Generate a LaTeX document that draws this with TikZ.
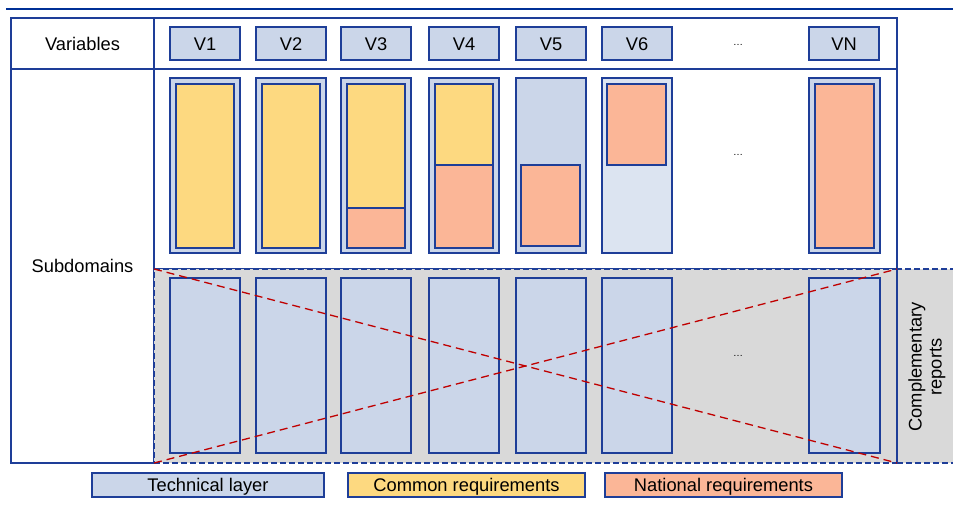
\documentclass[tikz,border=0pt]{standalone}
\usepackage{fontspec}
\setmainfont{Liberation Sans}
\definecolor{bcol}{RGB}{30,62,152}
\definecolor{topc}{RGB}{0,48,150}
\definecolor{techc}{RGB}{203,214,233}
\definecolor{techl}{RGB}{220,228,241}
\definecolor{yelc}{RGB}{253,217,128}
\definecolor{salc}{RGB}{251,182,151}
\definecolor{grayc}{RGB}{217,217,217}
\definecolor{redc}{RGB}{192,0,0}
\begin{document}
\begin{tikzpicture}[x=1pt,y=-1pt,
  every node/.style={font=\fontsize{18.3}{20}\selectfont, inner sep=0pt, outer sep=0pt},
  lbl/.style={text height=13.1pt, text depth=0pt},
  cell/.style={draw=bcol, line width=1.2pt, fill=white, rectangle, anchor=north west, lbl},
  bx/.style={draw=bcol, line width=1.6pt, rectangle, anchor=north west, lbl},
  tech/.style={bx, fill=techc},
  techlt/.style={bx, fill=techl},
  common/.style={bx, fill=yelc},
  natl/.style={bx, fill=salc},
  dots/.style={font=\fontsize{10}{11}\selectfont},
  band/.style={fill=grayc, draw=bcol, line width=1.1pt, dash pattern=on 6pt off 3pt, rectangle, anchor=north west},
  cross/.style={draw=redc, line width=1.3pt, dash pattern=on 8pt off 5pt},
  topline/.style={draw=topc, line width=2pt},
  edge/.style={draw=bcol, line width=1.2pt},
]
\useasboundingbox (0,0) rectangle (953,510);

% top rule
\coordinate (tl) at (6,9);
\coordinate (tr) at (953,9);
\draw[topline] (tl) -- (tr);

% table cells
\node[cell, minimum width=143pt, minimum height=51pt] (varcell) at (11,18) {Variables};
\node[cell, minimum width=143pt, minimum height=394pt] (subcell) at (11,69) {Subdomains};
\node[cell, minimum width=743pt, minimum height=51pt] (hdr) at (154,18) {};
\node[cell, minimum width=743pt, minimum height=200pt] (upper) at (154,69) {};
\node[band, minimum width=743pt, minimum height=194pt] (lower) at (154,269) {};
\node[band, minimum width=72pt, minimum height=194pt] (comp) at (897,269) {};
\node[rotate=90, align=center] (comptxt) at (927,367) {Complementary\\reports};
\draw[edge] (hdr.north east) -- (lower.south east);

% header boxes
\node[tech, minimum width=70pt, minimum height=33pt] (h1) at (170,27) {V1};
\node[tech, minimum width=70pt, minimum height=33pt] (h2) at (256,27) {V2};
\node[tech, minimum width=70pt, minimum height=33pt] (h3) at (341,27) {V3};
\node[tech, minimum width=70pt, minimum height=33pt] (h4) at (429,27) {V4};
\node[tech, minimum width=70pt, minimum height=33pt] (h5) at (516,27) {V5};
\node[tech, minimum width=70pt, minimum height=33pt] (h6) at (602,27) {V6};
\node[tech, minimum width=70pt, minimum height=33pt] (h7) at (809,27) {VN};
\node[dots] (dh) at (738,45) {…};

% upper columns
\node[tech, minimum width=70pt, minimum height=175pt] (u1) at (170,78) {};
\node[common, minimum width=58pt, minimum height=164pt] (c1) at (176,84) {};
\node[tech, minimum width=70pt, minimum height=175pt] (u2) at (256,78) {};
\node[common, minimum width=58pt, minimum height=164pt] (c2) at (262,84) {};
\node[tech, minimum width=70pt, minimum height=175pt] (u3) at (341,78) {};
\node[common, minimum width=58pt, minimum height=124pt] (c3) at (347,84) {};
\node[natl, minimum width=58pt, minimum height=40pt] (n3) at (347,208) {};
\node[tech, minimum width=70pt, minimum height=175pt] (u4) at (429,78) {};
\node[common, minimum width=58pt, minimum height=81pt] (c4) at (435,84) {};
\node[natl, minimum width=58pt, minimum height=83pt] (n4) at (435,165) {};
\node[tech, minimum width=70pt, minimum height=175pt] (u5) at (516,78) {};
\node[natl, minimum width=59pt, minimum height=81pt] (n5) at (521,165) {};
\node[techlt, minimum width=70pt, minimum height=175pt] (u6) at (602,78) {};
\node[natl, minimum width=59pt, minimum height=81pt] (n6) at (607,84) {};
\node[tech, minimum width=71pt, minimum height=175pt] (u7) at (809,78) {};
\node[natl, minimum width=59pt, minimum height=164pt] (n7) at (815,84) {};
\node[dots] (du) at (738,155) {…};

% lower columns
\node[tech, minimum width=70pt, minimum height=175pt] (l1) at (170,278) {};
\node[tech, minimum width=70pt, minimum height=175pt] (l2) at (256,278) {};
\node[tech, minimum width=70pt, minimum height=175pt] (l3) at (341,278) {};
\node[tech, minimum width=70pt, minimum height=175pt] (l4) at (429,278) {};
\node[tech, minimum width=70pt, minimum height=175pt] (l5) at (516,278) {};
\node[tech, minimum width=70pt, minimum height=175pt] (l6) at (602,278) {};
\node[tech, minimum width=71pt, minimum height=175pt] (l7) at (809,278) {};
\node[dots] (dl) at (738,356) {…};

% red cross
\draw[cross] (lower.north west) -- (lower.south east);
\draw[cross] (lower.south west) -- (lower.north east);

% legend
\node[tech, minimum width=232pt, minimum height=24pt] (leg1) at (92,473) {Technical layer};
\node[common, minimum width=237pt, minimum height=24pt] (leg2) at (348,473) {Common requirements};
\node[natl, minimum width=237pt, minimum height=24pt] (leg3) at (605,473) {National requirements};
\end{tikzpicture}
\end{document}
